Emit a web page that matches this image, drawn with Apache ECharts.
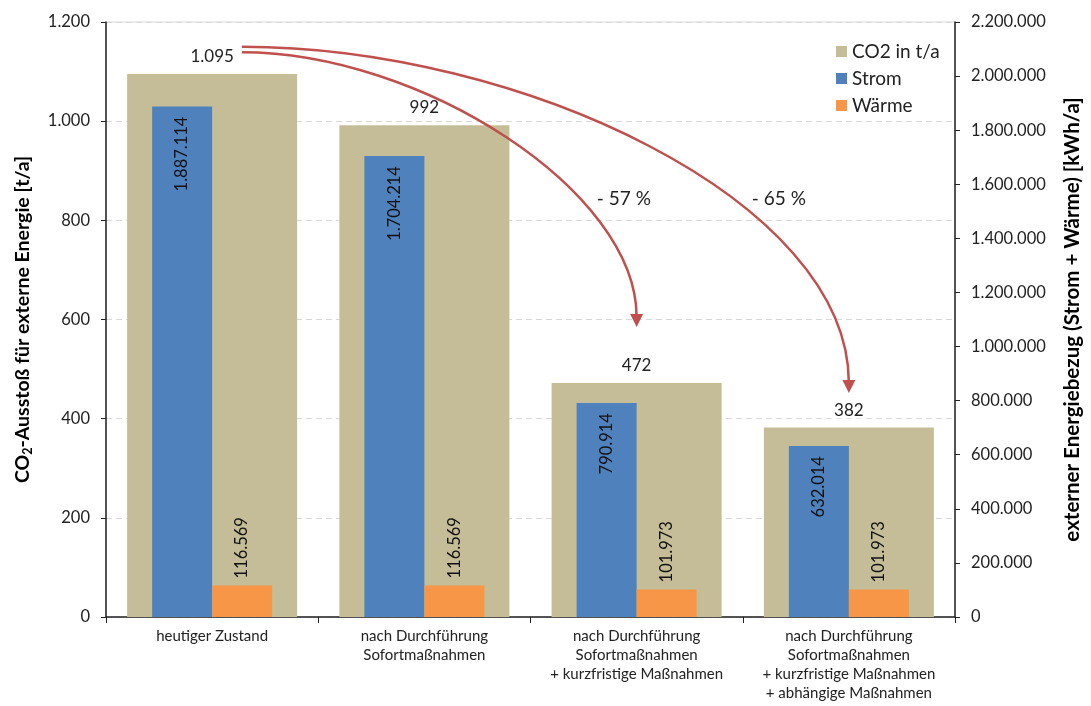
<!DOCTYPE html>
<html>
<head>
<meta charset="utf-8">
<script src="https://cdn.jsdelivr.net/npm/echarts@6/dist/echarts.min.js"></script>
<style>
  html, body { margin: 0; padding: 0; background: #fff; }
  #chart { width: 1091px; height: 706px; }
</style>
</head>
<body>
<div id="chart"></div>
<script>
var categories = [
  'heutiger Zustand',
  'nach Durchführung\nSofortmaßnahmen',
  'nach Durchführung\nSofortmaßnahmen\n+ kurzfristige Maßnahmen',
  'nach Durchführung\nSofortmaßnahmen\n+ kurzfristige Maßnahmen\n+ abhängige Maßnahmen'
]
var co2 = [1095, 992, 472, 382]
var strom = [1887114, 1704214, 790914, 632014]
var waerme = [116569, 116569, 101973, 101973]

// arrows: [x on 0..4 scale, t/a]
var arrowLabels = ['- 57 %', '- 65 %']
var arrowFrom = [[0.64, 1139], [0.64, 1150]]
var arrowTo = [[2.5, 585], [3.5, 452]]
var arrowCtrl = [[1.48, 861], [1.95, 841]] // [x of 1st control, y of 2nd control]
var arrowLabelPos = [[2.44, 843], [3.17, 843]]

var FONT = 'Lato, "Open Sans", sans-serif'
var TXT = '#222'

function fmt(v) {
  return String(v).replace(/\B(?=(\d{3})+(?!\d))/g, '.')
}

var chart = echarts.init(document.getElementById('chart'))

chart.setOption({
  animation: false,
  textStyle: { fontFamily: FONT, color: TXT },
  grid: {
    left: 106, right: 134, top: 22, bottom: 89,
    show: true, borderColor: '#d9d9d9', borderWidth: 1
  },
  legend: {
    orient: 'vertical',
    left: 831,
    top: 37,
    icon: 'rect',
    itemWidth: 11,
    itemHeight: 11,
    itemGap: 8,
    textStyle: { fontSize: 19, color: TXT, fontFamily: FONT },
    data: ['CO2 in t/a', 'Strom', 'Wärme']
  },
  xAxis: [
    {
      type: 'category',
      data: categories,
      axisLine: { lineStyle: { color: '#222', width: 1.5 } },
      axisTick: { show: true, length: 6, lineStyle: { color: '#222' } },
      axisLabel: { fontSize: 15, lineHeight: 19, color: TXT, margin: 10, interval: 0, fontFamily: FONT }
    },
    {
      type: 'category',
      data: categories,
      show: false
    },
    {
      type: 'value',
      min: 0,
      max: 4,
      show: false
    }
  ],
  yAxis: [
    {
      type: 'value',
      min: 0,
      max: 1200,
      interval: 200,
      name: '{a|CO}{sub|2}{a|-Ausstoß für externe Energie [t/a]}',
      nameLocation: 'middle',
      nameGap: 72,
      nameTextStyle: {
        rich: {
          a: { fontSize: 19.5, fontWeight: 'bold', color: '#000', fontFamily: FONT },
          sub: { fontSize: 12.5, fontWeight: 'bold', color: '#000', fontFamily: FONT, padding: [10, 0, 0, 0] }
        }
      },
      axisLine: { show: true, lineStyle: { color: '#222', width: 1.5 } },
      axisTick: { show: true, length: 5, lineStyle: { color: '#222' } },
      axisLabel: { fontSize: 16.5, color: TXT, margin: 16, formatter: fmt, fontFamily: FONT },
      splitLine: { lineStyle: { color: '#d9d9d9', type: [6, 4] } }
    },
    {
      type: 'value',
      min: 0,
      max: 2200000,
      interval: 200000,
      position: 'right',
      name: 'externer Energiebezug (Strom + Wärme) [kWh/a]',
      nameLocation: 'middle',
      nameGap: 107,
      nameTextStyle: { fontSize: 20.5, fontWeight: 'bold', color: '#000', fontFamily: FONT },
      axisLine: { show: true, lineStyle: { color: '#222', width: 1.5 } },
      axisTick: { show: true, length: 5, lineStyle: { color: '#222' } },
      axisLabel: { fontSize: 16.5, color: TXT, margin: 16, formatter: fmt, fontFamily: FONT },
      splitLine: { show: false }
    }
  ],
  series: [
    {
      name: 'CO2 in t/a',
      type: 'bar',
      xAxisIndex: 0,
      yAxisIndex: 0,
      barWidth: 170,
      itemStyle: { color: '#C4BD97' },
      label: {
        show: true,
        position: 'top',
        distance: 9,
        fontSize: 17,
        color: TXT,
        fontFamily: FONT,
        backgroundColor: '#fff',
        padding: [0, 3],
        formatter: function (p) { return fmt(p.value) }
      },
      data: co2
    },
    {
      name: 'Strom',
      type: 'bar',
      xAxisIndex: 1,
      yAxisIndex: 1,
      barWidth: 60,
      barGap: 0,
      itemStyle: { color: '#4F81BD' },
      label: {
        show: true,
        position: 'insideTop',
        rotate: 90,
        align: 'right',
        verticalAlign: 'middle',
        distance: 10,
        fontSize: 16.5,
        color: '#111',
        fontFamily: FONT,
        formatter: function (p) { return fmt(p.value) }
      },
      data: strom
    },
    {
      name: 'Wärme',
      type: 'bar',
      xAxisIndex: 1,
      yAxisIndex: 1,
      barWidth: 60,
      barGap: 0,
      itemStyle: { color: '#F79646' },
      label: {
        show: true,
        position: 'top',
        rotate: 90,
        align: 'left',
        verticalAlign: 'middle',
        distance: 7,
        fontSize: 16.5,
        color: '#111',
        fontFamily: FONT,
        formatter: function (p) { return fmt(p.value) }
      },
      data: waerme
    }
  ]
})

// arrows drawn from data coordinates
function px(pt) {
  return chart.convertToPixel({ xAxisIndex: 2, yAxisIndex: 0 }, pt)
}
var graphics = []
arrowFrom.forEach(function (f, i) {
  var p0 = px(f)
  var tip = px(arrowTo[i])
  var c1 = px([arrowCtrl[i][0], arrowFrom[i][1]])
  var c2 = px([arrowTo[i][0], arrowCtrl[i][1]])
  var end = [tip[0], tip[1] - 10]
  graphics.push({
    type: 'bezierCurve',
    z: 100,
    shape: {
      x1: p0[0], y1: p0[1],
      cpx1: c1[0], cpy1: c1[1],
      cpx2: c2[0], cpy2: c2[1],
      x2: end[0], y2: end[1]
    },
    style: { stroke: '#C0504D', lineWidth: 2.5, fill: null }
  })
  graphics.push({
    type: 'polygon',
    z: 100,
    shape: { points: [[tip[0] - 6.5, tip[1] - 13], [tip[0] + 6.5, tip[1] - 13], [tip[0], tip[1]]] },
    style: { fill: '#C0504D' }
  })
  var lp = px(arrowLabelPos[i])
  graphics.push({
    type: 'text',
    z: 100,
    x: lp[0],
    y: lp[1],
    style: {
      text: arrowLabels[i],
      fontSize: 19,
      fontFamily: FONT,
      fill: TXT,
      align: 'center',
      verticalAlign: 'middle'
    }
  })
})
chart.setOption({ graphic: graphics })
</script>
</body>
</html>
